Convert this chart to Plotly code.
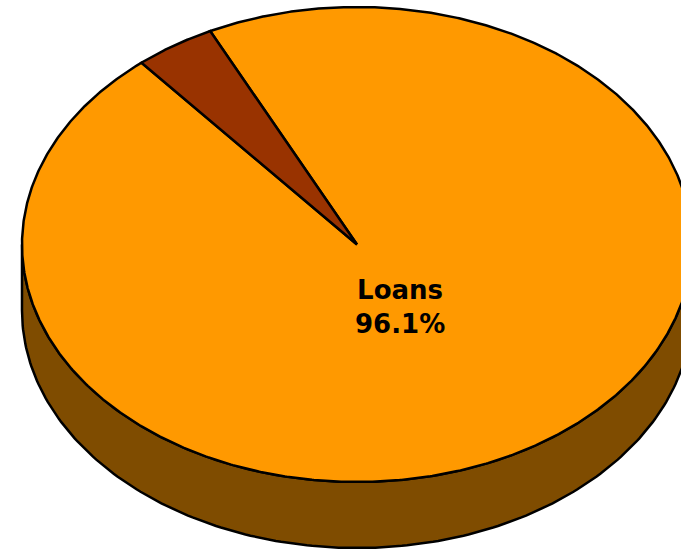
import numpy as np
import plotly.graph_objects as go

# ---- data ----
labels = ["Loans", "Other"]
values = [96.1, 3.9]
colors = ["#FF9900", "#993300"]
side_colors = ["#7F4C00", "#4C1900"]

# ---- geometry (layout, pixel space) ----
W, H = 681, 549
cx, cy = 357.0, 244.5
rx, ry = 335.0, 237.5
depth = 66.0
start_deg = 116.0  # slices run clockwise from here

def pt(theta_deg, dy=0.0):
    t = np.radians(theta_deg)
    return cx + rx * np.cos(t), cy - ry * np.sin(t) + dy

total = float(sum(values))
spans = [v / total * 360.0 for v in values]

fig = go.Figure()

slice_bounds = []
a = start_deg
for s in spans:
    slice_bounds.append((a - s, a))
    a -= s

# side wall: visible front part (angles -180..0)
for i, (lo, hi) in enumerate(slice_bounds):
    for shift in (-360, 0, 360):
        l, h = lo + shift, hi + shift
        fl, fh = max(l, -180.0), min(h, 0.0)
        if fh > fl:
            th = np.linspace(fl, fh, 200)
            xs_top, ys_top = pt(th)
            xs_bot, ys_bot = pt(th[::-1], depth)
            xs = np.concatenate([xs_top, xs_bot, xs_top[:1]])
            ys = np.concatenate([ys_top, ys_bot, ys_top[:1]])
            fig.add_trace(go.Scatter(x=xs, y=ys, mode="lines", fill="toself",
                                     fillcolor=side_colors[i],
                                     line=dict(color="black", width=2.5),
                                     hoverinfo="skip", showlegend=False))

# top face slices
for i, (lo, hi) in enumerate(slice_bounds):
    th = np.linspace(hi, lo, max(20, int(spans[i] * 3)))
    ax_, ay_ = pt(th)
    xs = np.concatenate([[cx], ax_, [cx]])
    ys = np.concatenate([[cy], ay_, [cy]])
    fig.add_trace(go.Scatter(x=xs, y=ys, mode="lines", fill="toself",
                             fillcolor=colors[i],
                             line=dict(color="black", width=2.5),
                             name=labels[i],
                             hoverinfo="name", showlegend=False))

fig.add_annotation(x=400, y=307, xref="x", yref="y",
                   text=f"<b>{labels[0]}<br>{values[0]:.1f}%</b>",
                   showarrow=False,
                   font=dict(family="DejaVu Sans", size=26, color="black"))

fig.update_layout(
    width=W, height=H,
    margin=dict(l=0, r=0, t=0, b=0),
    paper_bgcolor="white", plot_bgcolor="white",
    xaxis=dict(range=[0, W], visible=False, fixedrange=True),
    yaxis=dict(range=[H, 0], visible=False, fixedrange=True),
)

fig.write_html("out.html")
